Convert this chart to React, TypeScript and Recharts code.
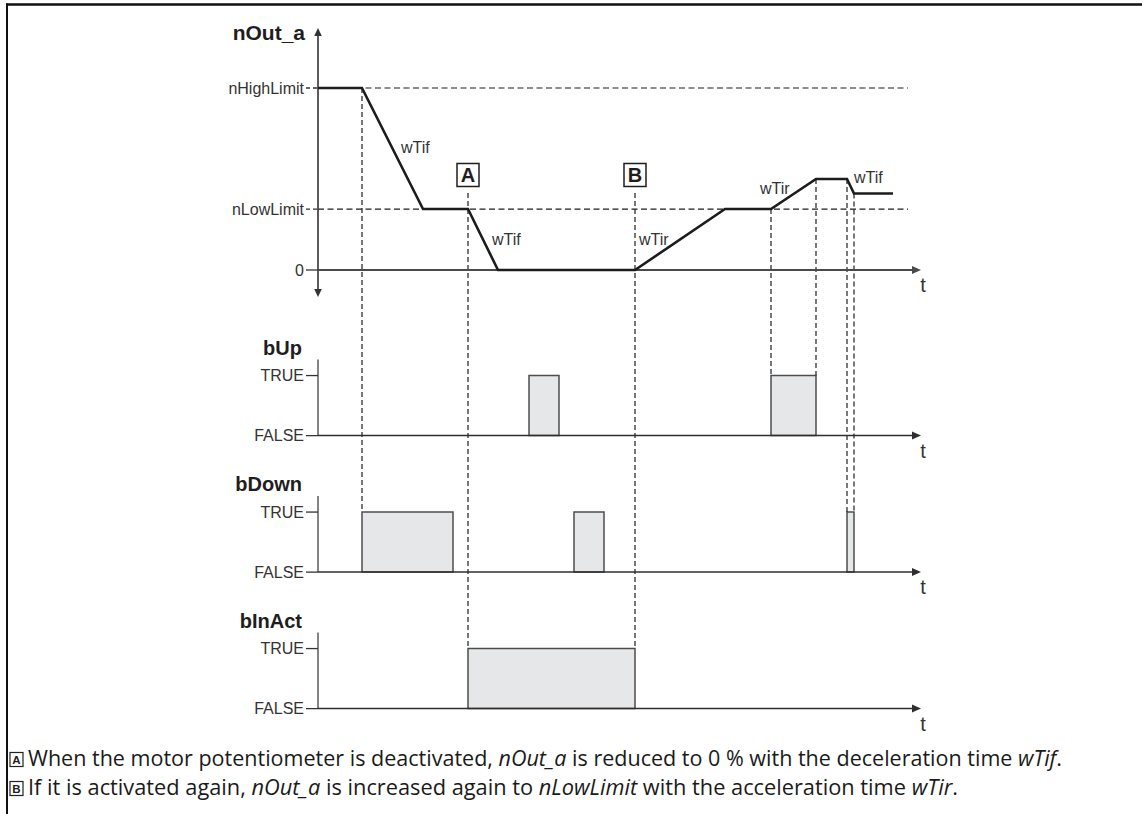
import React from 'react';
import {
  ComposedChart,
  Line,
  XAxis,
  YAxis,
  ReferenceLine,
  ReferenceArea,
  ReferenceDot,
} from 'recharts';

// ---------------- data ----------------
// time in arbitrary units (0 … 120)
const T_MAX = 120;

// nOut_a levels
const N_HIGH = 100;
const N_LOW = 33.5;
const N_ZERO = 0;

// nOut_a breakpoints
const nOutTimes = [0, 8.8, 21, 30, 36, 63.4, 81.4, 90.6, 99.6, 105.8, 107.2, 115];
const nOutValues = [100, 100, 33.5, 33.5, 0, 0, 33.5, 33.5, 50, 50, 42, 42];

// boolean signal pulses [start, end] (TRUE intervals)
const bUpPulses = [
  [42.2, 48.2],
  [90.6, 99.6],
];
const bDownPulses = [
  [8.8, 27],
  [51.2, 57.2],
  [105.8, 107.2],
];
const bInActPulses = [[30, 63.4]];

// labels
const laneNames = ['bUp', 'bDown', 'bInAct'];
const boolLabels = ['FALSE', 'TRUE'];
const levelLabels = ['nHighLimit', 'nLowLimit', '0'];
const levelValues = [N_HIGH, N_LOW, N_ZERO];

// vertical dashed guides: time, upper level (nOut_a units), lane where it ends (TRUE level)
const guideTimes = [8.8, 30, 63.4, 90.6, 99.6, 105.8, 107.2];
const guideTops = [N_HIGH, 42.3, 42.3, N_LOW, 50, 50, 42];
const guideLanes = ['bDown', 'bInAct', 'bInAct', 'bUp', 'bUp', 'bDown', 'bDown'];

// markers A / B
const markerLetters = ['A', 'B'];
const markerTimes = [30, 63.4];
const MARKER_LEVEL = 52.2;

// ramp labels
const rampTexts = ['wTif', 'wTif', 'wTir', 'wTir', 'wTif'];
const rampTimes = [16.6, 34.8, 64.2, 88.4, 107.2];
const rampLevels = [64.3, 13.7, 13.7, 41.8, 47.8];

// ---------------- layout ----------------
const W = 1142;
const H = 814;
const Y_DOMAIN: [number, number] = [-260, 140];
const LANE_BASE: Record<string, number> = { bUp: -91, bDown: -166, bInAct: -241 };
const LANE_AMP = 33;
const LANE_AXIS_EXTRA = 8.8;
const TOP_AXIS_MIN = -14.8;
const TOP_AXIS_MAX = 133;
const X_AXIS_END = 120.6;
const TICK_SIZE = 12;
const TICK_MARGIN = 2;

const SANS = '"Liberation Sans", Arial, Helvetica, sans-serif';
const FOOT = '"Open Sans", "Noto Sans", sans-serif';
const INK = '#1e1e1e';
const AXIS = '#333';

const lanePulses: Record<string, number[][]> = {
  bUp: bUpPulses,
  bDown: bDownPulses,
  bInAct: bInActPulses,
};

const nOutData = nOutTimes.map((t, i) => ({ t, v: nOutValues[i] }));

const tickValues: number[] = [];
const tickLabelMap = new Map<number, string>();
levelValues.forEach((v, i) => {
  tickValues.push(v);
  tickLabelMap.set(v, levelLabels[i]);
});
laneNames.forEach((name) => {
  const b = LANE_BASE[name];
  tickValues.push(b + LANE_AMP, b);
  tickLabelMap.set(b + LANE_AMP, boolLabels[1]);
  tickLabelMap.set(b, boolLabels[0]);
});

const YTick = (props: any) => {
  const { x, y, payload } = props;
  const val = payload.value;
  const label = tickLabelMap.get(val) ?? '';
  const dashed = val === N_HIGH || val === N_LOW;
  return (
    <g>
      <line
        x1={x + TICK_MARGIN}
        x2={x + TICK_MARGIN + TICK_SIZE}
        y1={y}
        y2={y}
        stroke={AXIS}
        strokeWidth={1.3}
        strokeDasharray={dashed ? '4 3' : undefined}
      />
      <text
        x={x}
        y={y}
        dy="0.36em"
        textAnchor="end"
        fontFamily={SANS}
        fontSize={16}
        fill="#333"
      >
        {label}
      </text>
    </g>
  );
};

const arrowLine =
  (startArrow: boolean, endArrow: boolean, color: string, width: number, head = 9, half = 4) =>
  (p: any) => {
    const x1 = Number(p.x1);
    const y1 = Number(p.y1);
    const x2 = Number(p.x2);
    const y2 = Number(p.y2);
    const dx = x2 - x1;
    const dy = y2 - y1;
    const len = Math.hypot(dx, dy) || 1;
    const ux = dx / len;
    const uy = dy / len;
    const nx = -uy;
    const ny = ux;
    const tri = (tx: number, ty: number, dir: number) => {
      const bx = tx - dir * ux * head;
      const by = ty - dir * uy * head;
      return `${tx},${ty} ${bx + nx * half},${by + ny * half} ${bx - nx * half},${by - ny * half}`;
    };
    const sx = startArrow ? x1 + ux * (head - 1) : x1;
    const sy = startArrow ? y1 + uy * (head - 1) : y1;
    const ex = endArrow ? x2 - ux * (head - 1) : x2;
    const ey = endArrow ? y2 - uy * (head - 1) : y2;
    return (
      <g>
        <line x1={sx} y1={sy} x2={ex} y2={ey} stroke={color} strokeWidth={width} />
        {endArrow && <polygon points={tri(x2, y2, 1)} fill={color} />}
        {startArrow && <polygon points={tri(x1, y1, -1)} fill={color} />}
      </g>
    );
  };

const textShape =
  (label: string, opts: { dx?: number; dy?: number; anchor?: string; size?: number; weight?: string; fill?: string }) =>
  (p: any) => (
    <text
      x={p.cx + (opts.dx ?? 0)}
      y={p.cy + (opts.dy ?? 0)}
      textAnchor={opts.anchor ?? 'start'}
      fontFamily={SANS}
      fontSize={opts.size ?? 16}
      fontWeight={opts.weight ?? 'normal'}
      fill={opts.fill ?? '#333'}
    >
      {label}
    </text>
  );

const boxShape = (letter: string) => (p: any) => (
  <g>
    <rect x={p.cx - 11} y={p.cy - 11.5} width={22} height={23} fill="#fff" stroke={INK} strokeWidth={1.5} />
    <text
      x={p.cx}
      y={p.cy + 7.5}
      textAnchor="middle"
      fontFamily={SANS}
      fontSize={20}
      fontWeight="bold"
      fill={INK}
    >
      {letter}
    </text>
  </g>
);

const FootBox = ({ x, y, letter }: { x: number; y: number; letter: string }) => (
  <g>
    <rect x={x} y={y} width={13} height={14} fill="#fff" stroke="#222" strokeWidth={1.2} />
    <text x={x + 6.5} y={y + 11.5} textAnchor="middle" fontFamily={SANS} fontSize={11.5} fontWeight="bold" fill="#222">
      {letter}
    </text>
  </g>
);

export default function App() {
  return (
    <div
      style={{
        position: 'absolute',
        left: 0,
        top: 0,
        width: W,
        height: H,
        background: '#fff',
        overflow: 'hidden',
      }}
    >
      <ComposedChart width={W} height={H} margin={{ top: 15.2, right: 224, bottom: 70.8, left: 258 }}>
        <XAxis type="number" dataKey="t" domain={[0, T_MAX]} hide allowDataOverflow />
        <YAxis
          type="number"
          width={60}
          domain={Y_DOMAIN}
          allowDataOverflow
          ticks={tickValues}
          interval={0}
          axisLine={false}
          tickLine={false}
          tickSize={TICK_SIZE}
          tickMargin={TICK_MARGIN}
          tick={<YTick />}
        />

        {/* pulses */}
        {laneNames.map((name) =>
          lanePulses[name].map(([a, b], i) => (
            <ReferenceArea
              key={`${name}-${i}`}
              x1={a}
              x2={b}
              y1={LANE_BASE[name]}
              y2={LANE_BASE[name] + LANE_AMP}
              fill="#e6e7e9"
              fillOpacity={1}
              stroke="#4d4d4d"
              strokeWidth={1.5}
              ifOverflow="visible"
            />
          ))
        )}

        {/* limit lines */}
        {[N_HIGH, N_LOW].map((v) => (
          <ReferenceLine
            key={`lim-${v}`}
            segment={[
              { x: 0, y: v },
              { x: 118, y: v },
            ]}
            stroke={INK}
            strokeWidth={1.2}
            strokeDasharray="6 3.5"
            ifOverflow="visible"
          />
        ))}

        {/* vertical guides */}
        {guideTimes.map((t, i) => (
          <ReferenceLine
            key={`g-${i}`}
            segment={[
              { x: t, y: guideTops[i] },
              { x: t, y: LANE_BASE[guideLanes[i]] + LANE_AMP },
            ]}
            stroke={INK}
            strokeWidth={1.2}
            strokeDasharray="5 3"
            ifOverflow="visible"
          />
        ))}

        {/* top panel axes */}
        <ReferenceLine
          segment={[
            { x: 0, y: TOP_AXIS_MIN },
            { x: 0, y: TOP_AXIS_MAX },
          ]}
          ifOverflow="visible"
          shape={arrowLine(true, true, AXIS, 1.6, 8, 3.8)}
        />
        <ReferenceLine
          segment={[
            { x: 0, y: N_ZERO },
            { x: X_AXIS_END, y: N_ZERO },
          ]}
          ifOverflow="visible"
          shape={arrowLine(false, true, '#4a4a4a', 1.8, 9, 4)}
        />

        {/* lane axes */}
        {laneNames.map((name) => (
          <ReferenceLine
            key={`ly-${name}`}
            segment={[
              { x: 0, y: LANE_BASE[name] },
              { x: 0, y: LANE_BASE[name] + LANE_AMP + LANE_AXIS_EXTRA },
            ]}
            stroke={AXIS}
            strokeWidth={1.2}
            ifOverflow="visible"
          />
        ))}
        {laneNames.map((name) => (
          <ReferenceLine
            key={`lx-${name}`}
            segment={[
              { x: 0, y: LANE_BASE[name] },
              { x: X_AXIS_END, y: LANE_BASE[name] },
            ]}
            ifOverflow="visible"
            shape={arrowLine(false, true, '#2e2e2e', 1.5, 9, 4)}
          />
        ))}

        {/* nOut_a curve */}
        <Line
          data={nOutData}
          dataKey="v"
          type="linear"
          stroke="#1c1c1c"
          strokeWidth={2.6}
          dot={false}
          activeDot={false}
          isAnimationActive={false}
        />

        {/* titles */}
        <ReferenceDot
          x={0}
          y={126.4}
          r={0}
          ifOverflow="visible"
          shape={textShape('nOut_a', { dx: -13, anchor: 'end', size: 21, weight: 'bold', fill: INK })}
        />
        {laneNames.map((name) => (
          <ReferenceDot
            key={`title-${name}`}
            x={0}
            y={LANE_BASE[name] + LANE_AMP + LANE_AXIS_EXTRA}
            r={0}
            ifOverflow="visible"
            shape={textShape(name, { dx: -16, dy: -5, anchor: 'end', size: 20, weight: 'bold', fill: INK })}
          />
        ))}

        {/* t labels */}
        {[N_ZERO, ...laneNames.map((n) => LANE_BASE[n])].map((b, i) => (
          <ReferenceDot
            key={`t-${i}`}
            x={121}
            y={b}
            r={0}
            ifOverflow="visible"
            shape={textShape('t', { dy: 22, anchor: 'middle', size: 20, fill: '#333' })}
          />
        ))}

        {/* ramp labels */}
        {rampTexts.map((txt, i) => (
          <ReferenceDot
            key={`r-${i}`}
            x={rampTimes[i]}
            y={rampLevels[i]}
            r={0}
            ifOverflow="visible"
            shape={textShape(txt, { size: 16, fill: '#333' })}
          />
        ))}

        {/* markers */}
        {markerLetters.map((l, i) => (
          <ReferenceDot
            key={`m-${l}`}
            x={markerTimes[i]}
            y={MARKER_LEVEL}
            r={0}
            ifOverflow="visible"
            shape={boxShape(l)}
          />
        ))}
      </ComposedChart>

      <svg
        width={W}
        height={H}
        style={{ position: 'absolute', left: 0, top: 0, pointerEvents: 'none' }}
      >
        <line x1={6} y1={4.5} x2={W} y2={4.5} stroke="#111" strokeWidth={2.5} />
        <line x1={7} y1={3.5} x2={7} y2={H} stroke="#111" strokeWidth={2} />

        <FootBox x={10} y={752.5} letter="A" />
        <text
          x={28}
          y={766}
          fontFamily={FOOT}
          fontSize={21}
          fill="#1a1a1a"
          textLength={1034}
          lengthAdjust="spacingAndGlyphs"
        >
          When the motor potentiometer is deactivated, <tspan fontStyle="italic">nOut_a</tspan> is reduced to 0 % with the
          deceleration time <tspan fontStyle="italic">wTif</tspan>.
        </text>

        <FootBox x={10} y={781.5} letter="B" />
        <text
          x={28}
          y={795}
          fontFamily={FOOT}
          fontSize={21}
          fill="#1a1a1a"
          textLength={930}
          lengthAdjust="spacingAndGlyphs"
        >
          If it is activated again, <tspan fontStyle="italic">nOut_a</tspan> is increased again to{' '}
          <tspan fontStyle="italic">nLowLimit</tspan> with the acceleration time <tspan fontStyle="italic">wTir</tspan>.
        </text>
      </svg>
    </div>
  );
}
